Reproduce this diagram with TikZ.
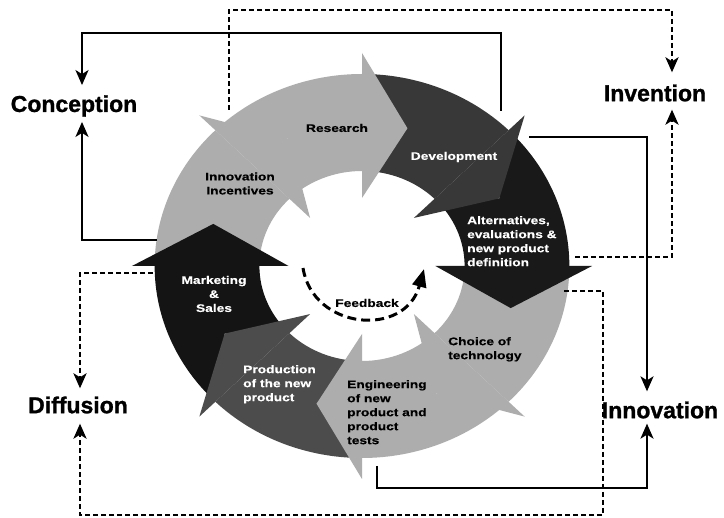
\documentclass[tikz,border=0pt]{standalone}
\usepackage{fontspec}
\setmainfont{Liberation Sans}
\newfontfamily\segfont[FakeStretch=1.25, BoldFeatures={FakeBold=0.4}]{Liberation Sans}
\newfontfamily\stagefont[BoldFeatures={FakeBold=1.2}]{Liberation Sans}
\usetikzlibrary{arrows.meta}
\definecolor{segLight}{gray}{0.68}
\definecolor{segDev}{gray}{0.22}
\definecolor{segAlt}{gray}{0.1}
\definecolor{segProd}{gray}{0.30}
\definecolor{segMkt}{gray}{0.08}
\begin{document}
\begin{tikzpicture}[x=1pt,y=-1pt,
  seglbl/.style={font=\segfont\bfseries\fontsize{11}{14}\selectfont, inner sep=0pt},
  onDark/.style={seglbl, text=white},
  onLight/.style={seglbl, text=black},
  stage/.style={font=\stagefont\bfseries\fontsize{23}{26}\selectfont, inner sep=0pt},
  tipS/.style={-{Stealth[length=15pt,width=13pt,inset=4pt]}},
  link/.style={line width=2pt, tipS},
  dlink/.style={line width=2.8pt, dash pattern=on 5pt off 3pt, tipS},
  fback/.style={line width=3pt, dash pattern=on 9pt off 5pt, -{Triangle[length=18pt,width=14pt]}}
]
\fill[white] (0,0) rectangle (724,518);
\useasboundingbox (0,0) rectangle (724,518);

% ring of eight curved arrows, clockwise
\begin{scope}[shift={(362,266)}, xscale=1.08]
  \foreach \a/\col in {180/segLight,225/segLight,270/segDev,315/segAlt,
                       0/segLight,45/segLight,90/segProd,135/segMkt}{
    \pgfmathsetmacro{\b}{\a+45}
    \pgfmathsetmacro{\n}{\a+17}
    \fill[\col] (\a:192) arc[start angle=\a, end angle=\b, radius=192]
      -- (\b:95) arc[start angle=\b, end angle=\a, radius=95]
      -- (\n:144) -- cycle;
  }
  \foreach \a/\col in {180/segLight,225/segLight,270/segDev,315/segAlt,
                       0/segLight,45/segLight,90/segProd,135/segMkt}{
    \pgfmathsetmacro{\b}{\a+45}
    \pgfmathsetmacro{\p}{\a+62}
    \fill[\col] (\b:213) -- (\p:144) -- (\b:68) -- cycle;
  }
\end{scope}

% stage labels on the ring
\node[onLight, align=center] (incent) at (240,183.5) {Innovation\\Incentives};
\node[onLight] (research) at (337,128) {Research};
\node[onDark] (develop) at (454,157) {Development};
\node[onDark, align=left, anchor=north west] (altern) at (467,216)
  {Alternatives,\\evaluations \&\\new product\\definition};
\node[onLight, align=left, anchor=north west] (choice) at (448,337)
  {Choice of\\technology};
\node[onLight, align=left, anchor=north west] (engin) at (347,380)
  {Engineering\\of new\\product and\\product\\tests};
\node[onDark, align=left, anchor=north west] (product) at (243,365)
  {Production\\of the new\\product};
\node[onDark, align=center] (market) at (214,294) {Marketing\\\&\\Sales};
\node[onLight] (feedlbl) at (367,303) {Feedback};

% feedback loop in the centre
\coordinate (fbA) at (303,268);
\coordinate (fbB) at (424,269);
\draw[fback] (fbA) .. controls (313,330) and (405,338) .. (fbB);

% outer stages
\node[stage] (conc) at (74,106) {Conception};
\node[stage] (inv) at (655,93) {Invention};
\node[stage] (diff) at (78,405) {Diffusion};
\node[stage] (innov) at (660,410) {Innovation};

% free ends of the connectors at the ring
\coordinate (c1s) at (501,111);
\coordinate (c2s) at (157,240);
\coordinate (c3s) at (529,137);
\coordinate (c4s) at (377,466);
\coordinate (d1s) at (229,110);
\coordinate (d2s) at (575,257);
\coordinate (d3s) at (153,273);
\coordinate (d4s) at (564,291);

% solid connectors
\draw[link] (c1s) |- (82,33) -- ([xshift=8pt,yshift=10pt]conc.north);
\draw[link] (c2s) -| ([xshift=8pt,yshift=-5pt]conc.south);
\draw[link] (c3s) -| ([xshift=-13pt,yshift=10pt]innov.north);
\draw[link] (c4s) |- (647,488) -- ([xshift=-13pt,yshift=-5pt]innov.south);

% dotted connectors
\draw[dlink] (d1s) |- (672,10) -- ([xshift=17pt,yshift=12pt]inv.north);
\draw[dlink] (d2s) -| ([xshift=17pt,yshift=-8pt]inv.south);
\draw[dlink] (d3s) -| ([xshift=2pt,yshift=8pt]diff.north);
\draw[dlink] (d4s) -| (603,515) -| ([xshift=2pt,yshift=-10pt]diff.south);
\end{tikzpicture}
\end{document}
